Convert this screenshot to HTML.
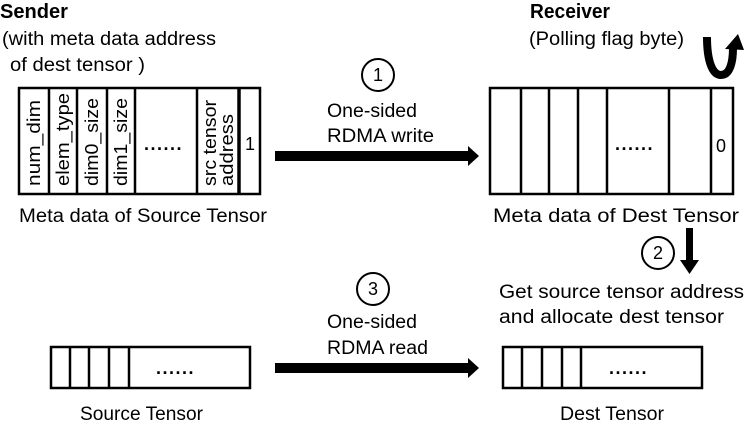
<!DOCTYPE html>
<html><head><meta charset="utf-8"><style>
html,body{margin:0;padding:0;background:#fff;}
svg{display:block;}
text{font-family:"Liberation Sans",sans-serif;fill:#000;}
</style></head><body>
<svg width="747" height="425" viewBox="0 0 747 425" xmlns="http://www.w3.org/2000/svg">
<g font-size="19">
<text x="0" y="18" font-size="20" font-weight="bold" textLength="68" lengthAdjust="spacingAndGlyphs">Sender</text>
<text x="2" y="45" textLength="214" lengthAdjust="spacingAndGlyphs">(with meta data address</text>
<text x="10" y="71" textLength="135" lengthAdjust="spacingAndGlyphs">of dest tensor )</text>
<text x="530" y="18" font-size="20" font-weight="bold" textLength="80" lengthAdjust="spacingAndGlyphs">Receiver</text>
<text x="529" y="45" textLength="155" lengthAdjust="spacingAndGlyphs">(Polling flag byte)</text>
</g>
<!-- sender meta box -->
<g fill="none" stroke="#000" stroke-width="2.5">
<rect x="19" y="88" width="241" height="106"/>
<line x1="49" y1="88" x2="49" y2="194"/>
<line x1="77" y1="88" x2="77" y2="194"/>
<line x1="107" y1="88" x2="107" y2="194"/>
<line x1="135" y1="88" x2="135" y2="194"/>
<line x1="197" y1="88" x2="197" y2="194"/>
<line x1="239" y1="88" x2="239" y2="194" stroke-width="3.5"/>
</g>
<g font-size="18">
<text transform="translate(40,186) rotate(-90)" textLength="86" lengthAdjust="spacingAndGlyphs">num_dim</text>
<text transform="translate(69,186) rotate(-90)" textLength="93" lengthAdjust="spacingAndGlyphs">elem_type</text>
<text transform="translate(98,186) rotate(-90)" textLength="88" lengthAdjust="spacingAndGlyphs">dim0_size</text>
<text transform="translate(127,186) rotate(-90)" textLength="88" lengthAdjust="spacingAndGlyphs">dim1_size</text>
<text transform="translate(216,186) rotate(-90)" textLength="86" lengthAdjust="spacingAndGlyphs">src tensor</text>
<text transform="translate(233,186) rotate(-90)" textLength="72" lengthAdjust="spacingAndGlyphs">address</text>
<text x="245" y="150">1</text>
<text x="144" y="150" font-weight="bold" letter-spacing="1.5">......</text>
</g>
<!-- receiver meta box -->
<g fill="none" stroke="#000" stroke-width="2.5">
<rect x="490" y="88" width="243" height="106"/>
<line x1="521" y1="88" x2="521" y2="194"/>
<line x1="549" y1="88" x2="549" y2="194"/>
<line x1="578" y1="88" x2="578" y2="194"/>
<line x1="607" y1="88" x2="607" y2="194"/>
<line x1="669" y1="88" x2="669" y2="194"/>
<line x1="711" y1="88" x2="711" y2="194"/>
</g>
<text x="615" y="150" font-size="18" font-weight="bold" letter-spacing="1.5">......</text>
<text x="716" y="152" font-size="18">0</text>
<g font-size="19">
<text x="19" y="222" textLength="248" lengthAdjust="spacingAndGlyphs">Meta data of Source Tensor</text>
<text x="493" y="222" textLength="246" lengthAdjust="spacingAndGlyphs">Meta data of Dest Tensor</text>
<text x="327" y="117" textLength="90" lengthAdjust="spacingAndGlyphs">One-sided</text>
<text x="327" y="142" textLength="107" lengthAdjust="spacingAndGlyphs">RDMA write</text>
<text x="499" y="298" textLength="245" lengthAdjust="spacingAndGlyphs">Get source tensor address</text>
<text x="499" y="323" textLength="225" lengthAdjust="spacingAndGlyphs">and allocate dest tensor</text>
<text x="327" y="328" textLength="90" lengthAdjust="spacingAndGlyphs">One-sided</text>
<text x="327" y="354" textLength="101" lengthAdjust="spacingAndGlyphs">RDMA read</text>
<text x="80" y="420" textLength="123" lengthAdjust="spacingAndGlyphs">Source Tensor</text>
<text x="560" y="420" textLength="104" lengthAdjust="spacingAndGlyphs">Dest Tensor</text>
</g>
<!-- circles -->
<g fill="none" stroke="#000" stroke-width="2">
<circle cx="378" cy="75" r="16"/>
<circle cx="658" cy="253" r="16"/>
<circle cx="373" cy="289" r="16"/>
</g>
<g font-size="18" text-anchor="middle">
<text x="378" y="81">1</text>
<text x="658" y="259">2</text>
<text x="373" y="295">3</text>
</g>
<!-- arrows -->
<polygon points="275,151 468,151 468,146 479,156 468,166 468,161 275,161"/>
<polygon points="275,363 468,363 468,358 479,368 468,378 468,373 275,373"/>
<polygon points="686,228 693,228 693,260 699,260 689.5,274 680,260 686,260"/>
<!-- U-turn arrow -->
<path d="M707,37 C707,60 712,75 721,75 C730,75 733,62 733,48" fill="none" stroke="#000" stroke-width="8"/>
<polygon points="725,49 738,34 744,50"/>
<!-- bottom tensors -->
<g fill="none" stroke="#000" stroke-width="2.5">
<rect x="51" y="347" width="199" height="41"/>
<line x1="70" y1="347" x2="70" y2="388"/>
<line x1="89" y1="347" x2="89" y2="388"/>
<line x1="109" y1="347" x2="109" y2="388"/>
<line x1="129" y1="347" x2="129" y2="388"/>
<rect x="503" y="347" width="199" height="41"/>
<line x1="522" y1="347" x2="522" y2="388"/>
<line x1="542" y1="347" x2="542" y2="388"/>
<line x1="562" y1="347" x2="562" y2="388"/>
<line x1="581" y1="347" x2="581" y2="388"/>
</g>
<text x="156" y="374" font-size="18" font-weight="bold" letter-spacing="1.5">......</text>
<text x="609" y="374" font-size="18" font-weight="bold" letter-spacing="1.5">......</text>
</svg>
</body></html>
